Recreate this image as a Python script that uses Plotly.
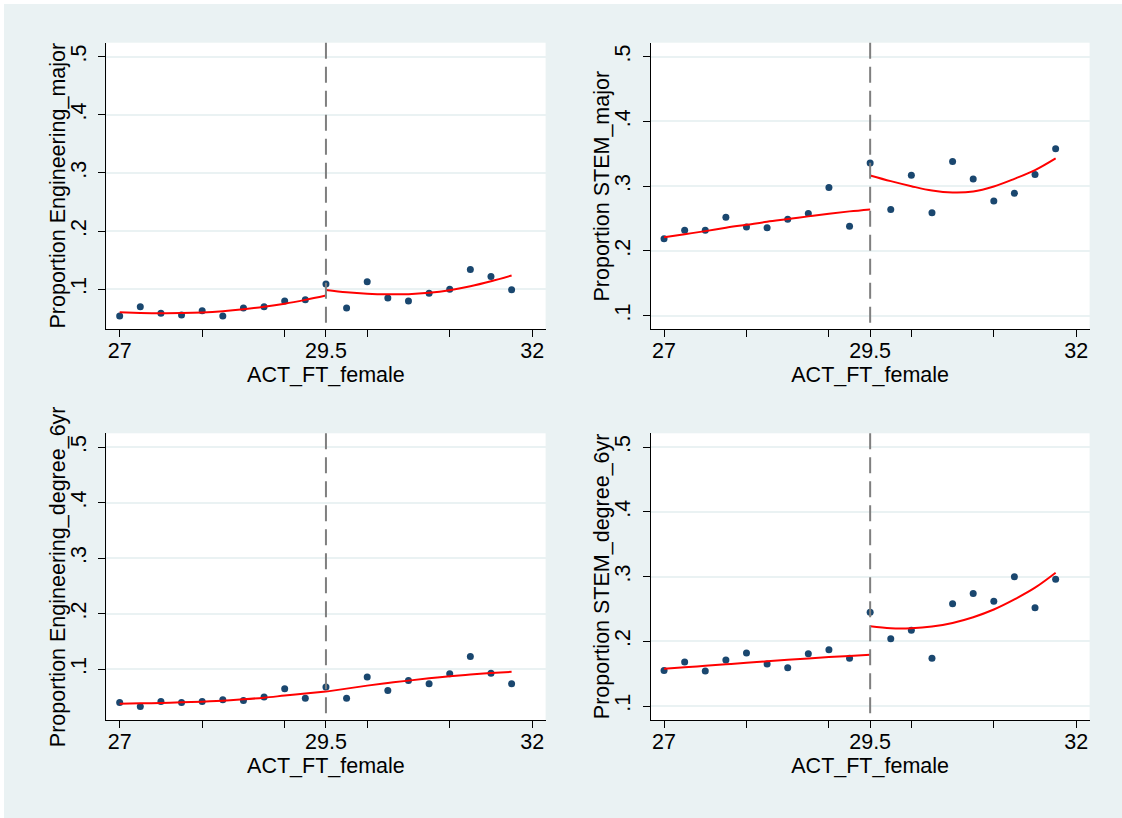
import plotly.graph_objects as go

# ---------------- data ----------------
x_bins = [27.0, 27.25, 27.5, 27.75, 28.0, 28.25, 28.5, 28.75, 29.0, 29.25,
          29.5, 29.75, 30.0, 30.25, 30.5, 30.75, 31.0, 31.25, 31.5, 31.75]
x_fit_left = [27.0, 27.25, 27.5, 27.75, 28.0, 28.25, 28.5, 28.75, 29.0, 29.25, 29.5]
x_fit_right = [29.5, 29.75, 30.0, 30.25, 30.5, 30.75, 31.0, 31.25, 31.5, 31.75]

eng_major = [0.054, 0.070, 0.059, 0.056, 0.063, 0.054, 0.068, 0.070, 0.080, 0.082,
             0.109, 0.068, 0.113, 0.085, 0.080, 0.093, 0.100, 0.134, 0.122, 0.099]
stem_major = [0.219, 0.232, 0.232, 0.252, 0.237, 0.236, 0.249, 0.258, 0.298, 0.238,
              0.336, 0.264, 0.317, 0.259, 0.338, 0.311, 0.277, 0.289, 0.318, 0.358]
eng_degree = [0.040, 0.033, 0.042, 0.040, 0.042, 0.045, 0.044, 0.050, 0.065, 0.048,
              0.068, 0.048, 0.086, 0.062, 0.080, 0.074, 0.092, 0.123, 0.093, 0.074]
stem_degree = [0.155, 0.168, 0.154, 0.171, 0.182, 0.165, 0.159, 0.181, 0.187, 0.174,
               0.245, 0.204, 0.217, 0.174, 0.258, 0.274, 0.262, 0.300, 0.252, 0.296]

eng_major_fit_l = [0.0604, 0.0594, 0.0589, 0.0591, 0.0602, 0.0624, 0.0657, 0.0699, 0.0752, 0.0818, 0.0893]
eng_major_fit_r = [0.0989, 0.0950, 0.0925, 0.0914, 0.0916, 0.0940, 0.0985, 0.1052, 0.1138, 0.1236]
stem_major_fit_l = [0.2212, 0.2259, 0.2306, 0.2358, 0.2404, 0.2451, 0.2492, 0.2534, 0.2575, 0.2611, 0.2642]
stem_major_fit_r = [0.3166, 0.3078, 0.3000, 0.2933, 0.2902, 0.2917, 0.2995, 0.3114, 0.3249, 0.3430]
eng_degree_fit_l = [0.0381, 0.0387, 0.0393, 0.0405, 0.0417, 0.0435, 0.0459, 0.0489, 0.0526, 0.0562, 0.0598]
eng_degree_fit_r = [0.0598, 0.0652, 0.0706, 0.0754, 0.0796, 0.0838, 0.0874, 0.0905, 0.0932, 0.0955]
stem_degree_fit_l = [0.1575, 0.1599, 0.1622, 0.1645, 0.1668, 0.1692, 0.1715, 0.1736, 0.1756, 0.1775, 0.1793]
stem_degree_fit_r = [0.2233, 0.2202, 0.2202, 0.2228, 0.2285, 0.2373, 0.2492, 0.2648, 0.2829, 0.3060]

x_tickvals = [27, 28, 29, 29.5, 30, 31, 32]
x_ticktext = ["27", "", "", "29.5", "", "", "32"]
y_tickvals = [0.1, 0.2, 0.3, 0.4, 0.5]
y_ticktext = [".1", ".2", ".3", ".4", ".5"]
cutoff = 29.5
x_title = "ACT_FT_female"

panels = [
    ("Proportion Engineering_major", eng_major, eng_major_fit_l, eng_major_fit_r, [0.0312, 0.524]),
    ("Proportion STEM_major", stem_major, stem_major_fit_l, stem_major_fit_r, [0.079, 0.5216]),
    ("Proportion Engineering_degree_6yr", eng_degree, eng_degree_fit_l, eng_degree_fit_r, [0.0087, 0.525]),
    ("Proportion STEM_degree_6yr", stem_degree, stem_degree_fit_l, stem_degree_fit_r, [0.0784, 0.5216]),
]

# ---------------- style ----------------
W, H = 1122, 818
BG = "#EAF2F3"
NAVY = "#1A476F"
FONT = "Liberation Sans, Arial, sans-serif"
FS = 21.5

xdoms = [[106.3 / W, 545.6 / W], [650.7 / W, 1089.6 / W]]
ydoms = [[1 - 329.3 / H, 1 - 42.7 / H], [1 - 720.0 / H, 1 - 433.3 / H]]
ytitle_x = [57.5 / W, 601.5 / W]

fig = go.Figure()
layout = dict(
    width=W, height=H,
    margin=dict(l=0, r=0, t=0, b=0),
    paper_bgcolor=BG, plot_bgcolor="white",
    showlegend=False,
    font=dict(family=FONT, size=FS, color="black"),
    shapes=[], annotations=[],
)

for i, (ytitle, pts, fit_l, fit_r, yrange) in enumerate(panels):
    n = "" if i == 0 else str(i + 1)
    xa, ya = "x" + n, "y" + n
    col, row = i % 2, i // 2
    fig.add_trace(go.Scatter(x=x_bins, y=pts, mode="markers", xaxis=xa, yaxis=ya,
                             marker=dict(color=NAVY, size=7, line=dict(width=0))))
    fig.add_trace(go.Scatter(x=x_fit_left, y=fit_l, mode="lines", xaxis=xa, yaxis=ya,
                             line=dict(color="red", width=2, shape="spline")))
    fig.add_trace(go.Scatter(x=x_fit_right, y=fit_r, mode="lines", xaxis=xa, yaxis=ya,
                             line=dict(color="red", width=2, shape="spline")))
    layout["xaxis" + n] = dict(
        domain=xdoms[col], anchor=ya, range=[26.838, 32.162],
        tickmode="array", tickvals=x_tickvals, ticktext=x_ticktext,
        ticks="outside", ticklen=7, tickwidth=1.3, tickcolor="black",
        showline=True, linecolor="black", linewidth=1.3, showgrid=False, zeroline=False,
        tickfont=dict(size=FS), ticklabelstandoff=-5,
        title=dict(text=x_title, font=dict(size=FS), standoff=0),
    )
    layout["yaxis" + n] = dict(
        domain=ydoms[row], anchor=xa, range=yrange,
        tickmode="array", tickvals=y_tickvals, ticktext=y_ticktext, tickangle=-90,
        ticks="outside", ticklen=7, tickwidth=1.3, tickcolor="black",
        showline=True, linecolor="black", linewidth=1.3,
        showgrid=True, gridcolor=BG, gridwidth=1.5, zeroline=False,
        tickfont=dict(size=FS), ticklabelstandoff=4,
    )
    layout["annotations"].append(dict(
        text=ytitle, xref="paper", yref="paper", x=ytitle_x[col],
        y=(ydoms[row][0] + ydoms[row][1]) / 2, xanchor="center", yanchor="middle",
        textangle=-90, showarrow=False, font=dict(size=FS)))
    layout["shapes"].append(dict(
        type="line", xref=xa, yref=ya + " domain", x0=cutoff, x1=cutoff, y0=1, y1=0,
        line=dict(color="#7F7F7F", width=2, dash="16px,8px"), layer="above"))

# thin white edge on the top and left of the graph region
layout["shapes"].append(dict(type="rect", xref="paper", yref="paper", x0=0, x1=4 / W, y0=0, y1=1,
                             fillcolor="white", line=dict(width=0), layer="below"))
layout["shapes"].append(dict(type="rect", xref="paper", yref="paper", x0=0, x1=1, y0=1 - 4 / H, y1=1,
                             fillcolor="white", line=dict(width=0), layer="below"))

fig.update_layout(**layout)
fig.write_html("out.html")
